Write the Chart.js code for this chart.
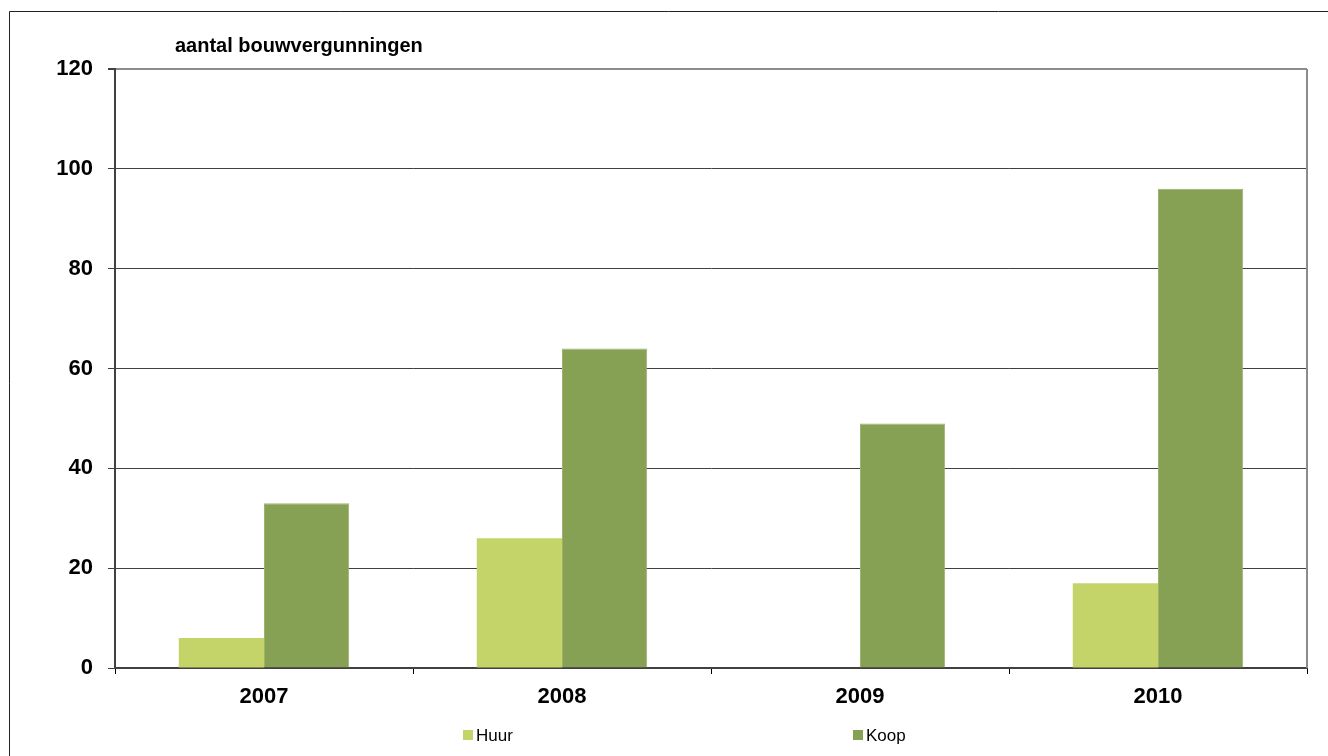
<!DOCTYPE html>
<html>
<head>
<meta charset="utf-8">
<title>aantal bouwvergunningen</title>
<script src="https://cdn.jsdelivr.net/npm/chart.js@4/dist/chart.umd.min.js"></script>
<style>
  body { margin: 0; background: #fff; }
  canvas { display: block; }
</style>
</head>
<body>
<canvas id="myChart" width="1328" height="756"></canvas>
<script>
var years = ['2007', '2008', '2009', '2010'];
var huur = [6, 26, 0, 17];
var koop = [33, 64, 49, 96];
var yTicks = [0, 20, 40, 60, 80, 100, 120];

var fontName = "'Liberation Sans', Arial, sans-serif";

// frame, plot border, title and the legend row under the axis
var decorations = {
    id: 'decorations',
    afterDraw: function (chart) {
        var c = chart.ctx;
        var area = chart.chartArea;
        c.save();

        c.strokeStyle = '#222';
        c.lineWidth = 1;
        c.beginPath();
        c.moveTo(9.5, 756);
        c.lineTo(9.5, 11.5);
        c.lineTo(1328, 11.5);
        c.stroke();

        c.strokeStyle = '#8c8c8c';
        c.lineWidth = 2;
        c.beginPath();
        c.moveTo(area.right, area.bottom);
        c.lineTo(area.right, area.top);
        c.stroke();

        c.fillStyle = '#000';
        c.font = 'bold 20px ' + fontName;
        c.textAlign = 'left';
        c.textBaseline = 'middle';
        c.fillText('aantal bouwvergunningen', 175, 46);

        var legendX = [463, 853];
        chart.data.datasets.forEach(function (ds, i) {
            c.fillStyle = ds.backgroundColor;
            c.fillRect(legendX[i], 730, 10, 10);
            c.fillStyle = '#000';
            c.font = '17px ' + fontName;
            c.fillText(ds.label, legendX[i] + 13, 736);
        });
        c.restore();
    }
};

var ctx = document.getElementById('myChart').getContext('2d');
var myChart = new Chart(ctx, {
    type: 'bar',
    data: {
        labels: years,
        datasets: [{
            label: 'Huur',
            data: huur,
            backgroundColor: '#c4d469',
            borderWidth: 0,
            categoryPercentage: 0.572,
            barPercentage: 1
        }, {
            label: 'Koop',
            data: koop,
            backgroundColor: '#87a154',
            borderColor: '#9cb36e',
            borderWidth: 1,
            borderSkipped: 'bottom',
            categoryPercentage: 0.572,
            barPercentage: 1
        }]
    },
    options: {
        responsive: false,
        animation: false,
        layout: { padding: { left: 0, top: 69, right: 21, bottom: 0 } },
        plugins: {
            legend: { display: false },
            title: { display: false },
            tooltip: { enabled: false }
        },
        scales: {
            x: {
                offset: true,
                grid: {
                    offset: true,
                    drawOnChartArea: false,
                    tickLength: 6,
                    tickColor: '#000'
                },
                border: { color: '#404040', width: 2 },
                ticks: {
                    color: '#000',
                    padding: 10,
                    font: { family: fontName, size: 22, weight: 'bold' }
                },
                afterFit: function (scale) { scale.height = 88; }
            },
            y: {
                min: 0,
                max: 120,
                afterBuildTicks: function (scale) {
                    scale.ticks = yTicks.map(function (v) { return { value: v }; });
                },
                grid: {
                    color: function (c) { return c.tick && c.tick.value === 120 ? '#8c8c8c' : '#404040'; },
                    lineWidth: function (c) { return c.tick && c.tick.value === 120 ? 2 : 1; },
                    tickLength: 7,
                    tickColor: '#404040'
                },
                border: { color: '#404040', width: 2 },
                ticks: {
                    color: '#000',
                    padding: 15,
                    font: { family: fontName, size: 22, weight: 'bold' }
                },
                afterFit: function (scale) { scale.width = 115; }
            }
        }
    },
    plugins: [decorations]
});
</script>
</body>
</html>
